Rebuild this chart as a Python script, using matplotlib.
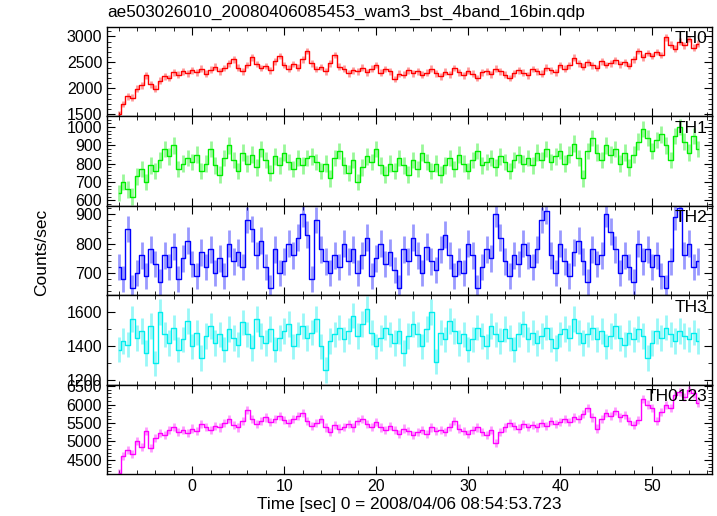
"""WAM light curve (4 bands + sum), QDP style stacked panels."""
import numpy as np
import matplotlib
matplotlib.use('Agg')
import matplotlib.pyplot as plt
from matplotlib.ticker import MultipleLocator

plt.rcParams['font.family'] = ['Liberation Sans', 'DejaVu Sans']

# bin centres [sec], 0.5 s bins
time = np.arange(-8.0, 55.01, 0.5)

th0 = [1500, 1700, 1850, 1820, 1990, 2060, 2250, 2080, 1990, 2150,
       2230, 2200, 2310, 2260, 2330, 2290, 2350, 2310, 2380, 2280,
       2360, 2420, 2330, 2390, 2480, 2560, 2400, 2330, 2450, 2600,
       2470, 2390, 2430, 2350, 2520, 2620, 2450, 2380, 2470, 2400,
       2560, 2720, 2480, 2370, 2410, 2330, 2480, 2640, 2420, 2380,
       2290, 2350, 2330, 2400, 2310, 2380, 2450, 2300, 2370, 2330,
       2180, 2280, 2260, 2350, 2290, 2330, 2260, 2300, 2380, 2290,
       2230, 2320, 2270, 2390, 2310, 2250, 2340, 2280, 2200, 2310,
       2330, 2270, 2380, 2330, 2260, 2200, 2290, 2350, 2300, 2250,
       2370, 2330, 2280, 2400, 2350, 2310, 2450, 2380, 2440, 2590,
       2480, 2420, 2500, 2440, 2390, 2520, 2450, 2480, 2540, 2460,
       2500, 2430, 2560, 2720, 2600, 2680, 2620, 2700, 2640, 2980,
       2840, 2760, 2900, 2830, 2950, 2780, 2860]

th1 = [640, 700, 660, 620, 730, 770, 700, 790, 760, 820,
       880, 840, 900, 770, 800, 830, 810, 850, 760, 800,
       880, 790, 740, 830, 900, 820, 760, 860, 800, 850,
       780, 880, 820, 750, 840, 790, 860, 810, 770, 830,
       790, 830, 840, 810, 760, 800, 720, 830, 870, 790,
       750, 820, 700, 780, 840, 810, 880, 790, 740, 800,
       760, 830, 790, 740, 820, 770, 860, 810, 760, 800,
       740, 790, 830, 770, 850, 800, 760, 820, 870, 790,
       810, 830, 780, 840, 810, 760, 820, 850, 800, 830,
       790, 860, 820, 880, 810, 840, 870, 800, 850, 910,
       830, 720, 870, 940, 860, 820, 900, 850, 880, 800,
       860, 780, 850, 920, 990, 940, 870, 930, 960, 900,
       820, 950, 1000, 920, 860, 950, 880]

th2 = [720, 680, 850, 650, 700, 760, 690, 780, 730, 670,
       760, 720, 790, 680, 750, 810, 730, 690, 770, 720,
       780, 700, 750, 690, 800, 740, 770, 720, 880, 850,
       760, 810, 720, 650, 780, 700, 740, 800, 760, 820,
       900, 830, 680, 880, 780, 740, 700, 760, 720, 800,
       740, 780, 700, 760, 820, 690, 750, 800, 730, 770,
       710, 650, 780, 740, 820, 760, 700, 790, 740, 710,
       780, 830, 760, 690, 740, 700, 800, 760, 650, 720,
       780, 750, 900, 820, 740, 690, 760, 730, 800, 760,
       720, 780, 880, 910, 760, 700, 800, 740, 690, 770,
       810, 740, 670, 780, 730, 760, 900, 840, 780, 700,
       760, 720, 670, 800, 740, 780, 720, 760, 690, 650,
       740, 890, 920, 760, 800, 720, 740]

th3 = [1380, 1430, 1410, 1560, 1450, 1490, 1360, 1520, 1300, 1600,
       1470, 1420, 1510, 1380, 1440, 1550, 1400, 1480, 1330, 1460,
       1520, 1420, 1470, 1380, 1500, 1450, 1410, 1540, 1470, 1390,
       1560, 1460, 1420, 1500, 1380, 1450, 1490, 1530, 1400, 1470,
       1520, 1450, 1480, 1560, 1400, 1260, 1430, 1470, 1510, 1440,
       1490, 1580, 1460, 1530, 1620, 1480, 1400, 1450, 1510, 1470,
       1420, 1490, 1360, 1460, 1530, 1470, 1400, 1500, 1600, 1310,
       1480, 1440, 1550, 1490, 1420, 1470, 1380, 1440, 1510, 1460,
       1400, 1520, 1470, 1430, 1500, 1450, 1380, 1470, 1530, 1440,
       1480, 1420, 1460, 1510, 1440, 1390, 1470, 1500, 1450, 1560,
       1480, 1420, 1470, 1510, 1440, 1490, 1400, 1460, 1520, 1450,
       1410, 1480, 1440, 1500, 1460, 1330, 1420, 1490, 1450, 1510,
       1470, 1430, 1490, 1460, 1440, 1480, 1430]

th0123 = [4150, 4600, 4780, 4650, 5020, 4850, 5280, 4820, 5100, 5230,
          5180, 5320, 5400, 5250, 5300, 5220, 5350, 5280, 5480, 5400,
          5300, 5420, 5380, 5500, 5600, 5450, 5380, 5550, 5850, 5600,
          5480, 5560, 5650, 5520, 5600, 5700, 5580, 5500, 5620, 5700,
          5780, 5550, 5420, 5500, 5620, 5380, 5250, 5450, 5350, 5400,
          5480, 5380, 5550, 5620, 5480, 5400, 5520, 5380, 5300, 5420,
          5300, 5200, 5350, 5280, 5180, 5250, 5320, 5200, 5380, 5280,
          5320, 5250, 5400, 5550, 5350, 5280, 5200, 5320, 5380, 5250,
          5180, 5300, 4950, 5250, 5380, 5500, 5420, 5350, 5480, 5400,
          5450, 5380, 5500, 5420, 5560, 5480, 5520, 5600, 5520, 5650,
          5600, 5750, 5900, 5650, 5350, 5600, 5780, 5700, 5820, 5650,
          5720, 5550, 5450, 5580, 6150, 6000, 5900, 5550, 5800, 5980,
          5900, 6250, 6350, 6200, 6400, 6300, 6050]

names = ['TH0', 'TH1', 'TH2', 'TH3', 'TH0123']
series = [th0, th1, th2, th3, th0123]
errs = [65, 45, 45, 75, 110]
colors = ['#ff0000', '#00ee00', '#0000ff', '#00eeee', '#ff00ff']
ylims = [(1460, 3180), (570, 1058), (625, 928), (1175, 1700), (4120, 6540)]
majors = [500, 100, 100, 200, 500]
minors = [100, 20, 20, 100, 100]

fig = plt.figure(figsize=(7.17, 5.16), dpi=100)
left, right = 107 / 717, 712 / 717
top, bot = 1 - 27 / 516, 1 - 474 / 516
h = (top - bot) / 5

axes = []
for i, (nm, v, e, c) in enumerate(zip(names, series, errs, colors)):
    ax = fig.add_axes([left, top - (i + 1) * h, right - left, h])
    v = np.asarray(v, float)
    ax.errorbar(time, v, yerr=e, fmt='none', ecolor=c, elinewidth=2.0, alpha=0.4)
    ax.step(time, v, where='mid', color=c, lw=1.0)
    ax.set_xlim(-9.25, 56.5)
    ax.set_ylim(*ylims[i])
    ax.xaxis.set_major_locator(MultipleLocator(10))
    ax.xaxis.set_minor_locator(MultipleLocator(2))
    ax.yaxis.set_major_locator(MultipleLocator(majors[i]))
    ax.yaxis.set_minor_locator(MultipleLocator(minors[i]))
    ax.tick_params(which='both', direction='in', top=True, right=True, labelsize=11.5)
    ax.tick_params(which='major', length=6, width=0.8)
    ax.tick_params(which='minor', length=3, width=0.6)
    if i < 4:
        ax.tick_params(labelbottom=False)
    ax.text(0.992, 0.95, nm, transform=ax.transAxes, ha='right', va='top', fontsize=12.5)
    for s in ax.spines.values():
        s.set_linewidth(1.0)
    axes.append(ax)

axes[-1].set_xlabel('Time [sec] 0 = 2008/04/06 08:54:53.723', fontsize=12.4, labelpad=2)
fig.text(42 / 717, 1 - 252 / 516, 'Counts/sec', rotation=90, ha='center', va='center', fontsize=12.5)
fig.text(107 / 717, 1 - 12 / 516, 'ae503026010_20080406085453_wam3_bst_4band_16bin.qdp',
         ha='left', va='center', fontsize=12.3)

fig.savefig('out.png', dpi=100)
